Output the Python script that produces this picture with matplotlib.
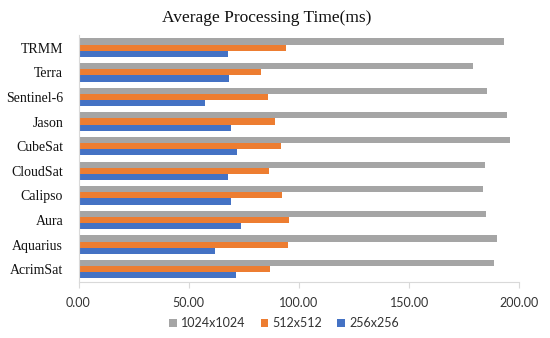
import matplotlib
matplotlib.use("Agg")
import matplotlib.pyplot as plt
import numpy as np
from matplotlib.patches import Patch

categories = ["AcrimSat", "Aquarius", "Aura", "Calipso", "CloudSat",
              "CubeSat", "Jason", "Sentinel-6", "Terra", "TRMM"]
s1024 = [188.4, 189.9, 185.0, 183.5, 184.4, 195.6, 194.2, 185.3, 178.9, 193.2]
s512 = [87.0, 94.9, 95.5, 92.4, 86.4, 92.0, 89.2, 86.1, 82.6, 94.1]
s256 = [71.5, 62.0, 73.8, 69.2, 67.7, 71.8, 69.4, 57.6, 68.3, 68.0]
series_names = ["1024x1024", "512x512", "256x256"]
colors = ["#A5A5A5", "#ED7D31", "#4472C4"]
xticks = [0, 50, 100, 150, 200]

fig = plt.figure(figsize=(5.5, 3.38), dpi=100)
ax = fig.add_axes([78.5/550, 1-281.5/338, (519.3-78.5)/550, (281.5-35.4)/338])

y = np.arange(len(categories))
h = 0.25
ax.barh(y + h, s1024, height=h, color=colors[0])
ax.barh(y, s512, height=h, color=colors[1])
ax.barh(y - h, s256, height=h, color=colors[2])

ax.set_xlim(0, 200)
ax.set_ylim(-0.5, len(categories) - 0.5)
ax.set_yticks(y)
ax.set_yticklabels(categories, family="Liberation Serif", fontsize=10, color="#111111")
ax.set_xticks(xticks)
ax.set_xticklabels([f"{v:.2f}" for v in xticks], family="Lato", fontsize=9, color="#333333")
ax.tick_params(axis="y", length=0, pad=11)
ax.tick_params(axis="x", length=4, color="#D9D9D9", pad=7)
for s in ["top", "right"]:
    ax.spines[s].set_visible(False)
for s in ["left", "bottom"]:
    ax.spines[s].set_color("#D9D9D9")
    ax.spines[s].set_linewidth(0.8)

fig.text(267/550, 1-22/338, "Average Processing Time(ms)", family="Liberation Serif",
         fontsize=12.5, ha="center", va="baseline", color="#111111")

handles = [Patch(facecolor=c, edgecolor="none") for c in colors]
fig.legend(handles, series_names, loc="center", bbox_to_anchor=(284/550, 1-323/338),
           ncol=3, frameon=False, prop={"family": "Lato", "size": 9},
           handlelength=0.6, handleheight=0.6, handletextpad=0.35, columnspacing=1.2,
           labelcolor="#333333")

fig.savefig("out.png", dpi=100)
